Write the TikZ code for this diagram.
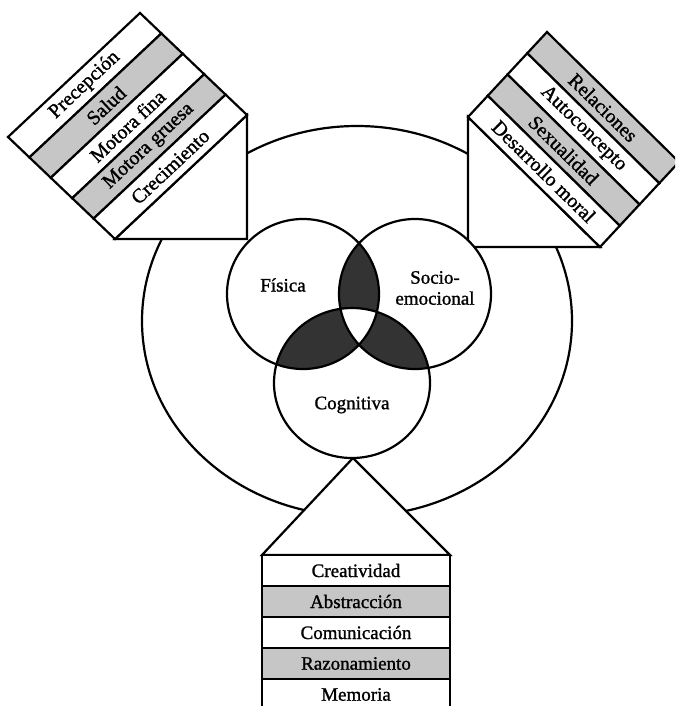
\documentclass[tikz,border=0pt]{standalone}
\usepackage{fontspec}
\setmainfont{Liberation Serif}
\newfontfamily\scanfont{Liberation Serif}[FakeBold=1.2]
\usetikzlibrary{calc}
\tikzset{
  ln/.style={line width=2.2pt, line join=miter},
  lbl/.style={font=\scanfont\fontsize{19}{21}\selectfont, inner sep=0pt},
  dlbl/.style={font=\scanfont\fontsize{20}{22}\selectfont, inner sep=0pt},
  darkfill/.style={fill=black!80},
  fr/.style={x radius=76, y radius=75},
  cr/.style={x radius=78, y radius=75},
}
\colorlet{stripgrey}{gray!45}
\begin{document}
\begin{tikzpicture}[x=1pt,y=-1pt]
\useasboundingbox (0,0) rectangle (675,706);
\clip (0,0) rectangle (675,706);
\fill[white] (0,0) rectangle (675,706);

% outer ring
\draw[ln] (357,321) ellipse [x radius=215, y radius=195];

% ---------- top-left box ----------
\coordinate (tlT) at (140,13);
\coordinate (tlL) at (8,137);
\coordinate (tlB) at (115,239);
\coordinate (tlR) at ($(tlT)+(tlB)-(tlL)$);
\coordinate (tlC) at (247,239);
\filldraw[ln, fill=white] (tlR) -- (tlC) -- (tlB) -- cycle;
\foreach \i/\t/\g in {0/Precepción/white, 1/Salud/stripgrey, 2/Motora fina/white, 3/Motora gruesa/stripgrey, 4/Crecimiento/white}{
  \pgfmathsetmacro\a{\i/5}
  \pgfmathsetmacro\b{(\i+1)/5}
  \pgfmathsetmacro\m{(\i+0.5)/5}
  \filldraw[ln, fill=\g] ($(tlL)!\a!(tlB)$) -- ($(tlT)!\a!(tlR)$) -- ($(tlT)!\b!(tlR)$) -- ($(tlL)!\b!(tlB)$) -- cycle;
  \path ($(tlL)!\m!(tlB)$) -- ($(tlT)!\m!(tlR)$) node[dlbl, midway, sloped] (tl\i) {\t};
}

% ---------- top-right box ----------
\coordinate (trT) at (547,32);
\coordinate (trL) at (468,117);
\coordinate (trB) at (600,247);
\coordinate (trR) at ($(trT)+(trB)-(trL)$);
\coordinate (trC) at (468,247);
\filldraw[ln, fill=white] (trL) -- (trC) -- (trB) -- cycle;
\foreach \i/\t/\g in {0/Relaciones/stripgrey, 1/Autoconcepto/white, 2/Sexualidad/stripgrey, 3/Desarrollo moral/white}{
  \pgfmathsetmacro\a{\i/4}
  \pgfmathsetmacro\b{(\i+1)/4}
  \pgfmathsetmacro\m{(\i+0.5)/4}
  \filldraw[ln, fill=\g] ($(trT)!\a!(trL)$) -- ($(trR)!\a!(trB)$) -- ($(trR)!\b!(trB)$) -- ($(trT)!\b!(trL)$) -- cycle;
  \path ($(trT)!\m!(trL)$) -- ($(trR)!\m!(trB)$) node[dlbl, midway, sloped] (tr\i) {\t};
}

% ---------- bottom box ----------
\coordinate (bA) at (353,458);
\coordinate (bL) at (262,555);
\coordinate (bR) at (450,555);
\filldraw[ln, fill=white] (bL) -- (bA) -- (bR) -- cycle;
\foreach \i/\t/\g in {0/Creatividad/white, 1/Abstracción/stripgrey, 2/Comunicación/white, 3/Razonamiento/stripgrey, 4/Memoria/white}{
  \pgfmathsetmacro\ya{555+31*\i}
  \pgfmathsetmacro\yb{555+31*(\i+1)}
  \filldraw[ln, fill=\g] (262,\ya) rectangle (450,\yb);
  \node[lbl] (bt\i) at (356,{(\ya+\yb)/2}) {\t};
}

% ---------- Venn ----------
\coordinate (F) at (303,294);
\coordinate (S) at (415,294);
\coordinate (C) at (352,383);
\fill[white] (F) ellipse [fr];
\fill[white] (S) ellipse [fr];
\fill[white] (C) ellipse [cr];
\begin{scope}
  \clip (F) ellipse [fr];
  \fill[darkfill] (S) ellipse [fr];
  \fill[darkfill] (C) ellipse [cr];
\end{scope}
\begin{scope}
  \clip (S) ellipse [fr];
  \fill[darkfill] (C) ellipse [cr];
\end{scope}
\begin{scope}
  \clip (F) ellipse [fr];
  \clip (S) ellipse [fr];
  \fill[white] (C) ellipse [cr];
\end{scope}
\draw[ln] (F) ellipse [fr];
\draw[ln] (S) ellipse [fr];
\draw[ln] (C) ellipse [cr];

\node[lbl] (fis) at (283,285) {Física};
\node[lbl, align=center] (soc) at (435,288) {Socio-\\emocional};
\node[lbl] (cog) at (352,405) {Cognitiva};
\end{tikzpicture}
\end{document}
